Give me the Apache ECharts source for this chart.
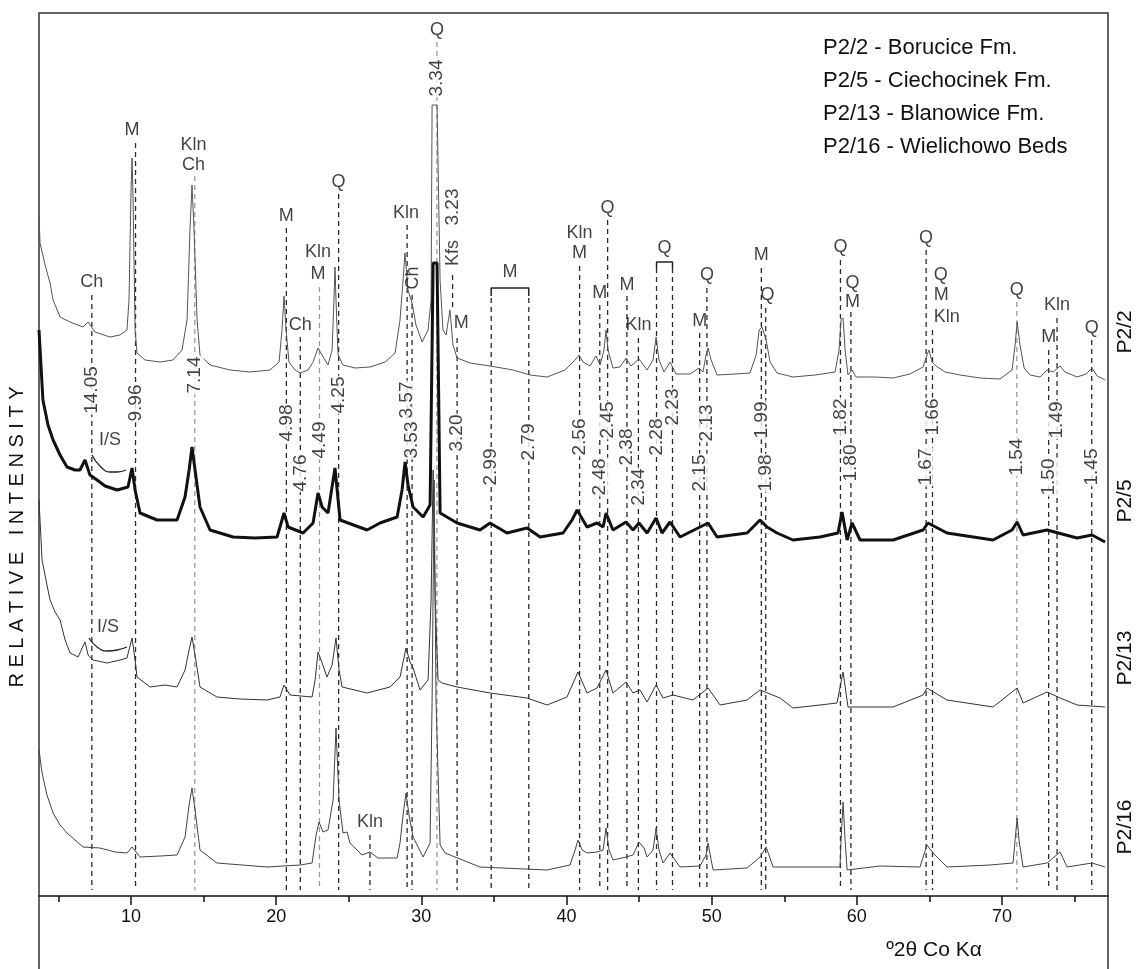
<!DOCTYPE html>
<html>
<head>
<meta charset="utf-8">
<title>XRD patterns P2</title>
<script src="https://cdn.jsdelivr.net/npm/echarts@6/dist/echarts.min.js"></script>
<style>
  html, body { margin: 0; padding: 0; background: #fff; }
  #chart { width: 1136px; height: 969px; }
</style>
</head>
<body>
<div id="chart"></div>
<script>
  // traces: [°2θ, relative intensity]
  const p22 = [[3.66,679],[3.73,653],[4.08,631],[4.42,613],[4.63,596],[5.11,579],[5.80,574],[6.69,569],[7.04,574],[7.52,564],[8.55,559],[9.24,561],[9.72,566],[9.86,596],[10.0,706],[10.07,738],[10.14,696],[10.28,566],[10.41,543],[10.96,536],[12.0,534],[12.89,536],[13.51,546],[13.86,576],[14.06,666],[14.20,711],[14.34,666],[14.55,576],[14.75,541],[15.44,531],[16.82,526],[18.19,524],[19.57,526],[20.20,534],[20.40,566],[20.54,600],[20.68,566],[20.88,534],[21.30,526],[21.64,523],[22.19,526],[22.54,534],[22.88,548],[23.16,541],[23.57,531],[23.85,546],[23.98,596],[24.05,629],[24.12,596],[24.26,541],[24.60,531],[25.43,528],[26.46,529],[27.50,534],[28.19,543],[28.53,576],[28.74,616],[28.87,643],[29.08,606],[29.36,593],[29.63,571],[30.05,554],[30.46,566],[30.67,596],[30.74,791],[31.08,791],[31.29,616],[31.49,566],[31.70,561],[31.97,586],[32.18,551],[32.46,538],[33.35,533],[34.73,530],[36.32,526],[37.49,521],[38.66,519],[39.90,526],[40.59,536],[40.86,541],[41.14,534],[41.62,530],[42.03,540],[42.31,531],[42.58,546],[42.72,566],[42.86,546],[43.20,528],[43.68,529],[44.10,538],[44.44,530],[44.99,537],[45.55,526],[45.96,536],[46.17,559],[46.37,536],[46.72,524],[47.13,534],[47.54,522],[48.51,522],[49.13,528],[49.40,524],[49.61,541],[49.75,548],[49.96,536],[50.37,521],[51.61,522],[52.64,523],[53.06,541],[53.27,566],[53.47,569],[53.75,556],[54.02,534],[54.50,523],[55.60,519],[57.12,521],[58.50,524],[58.77,546],[58.91,576],[59.05,578],[59.19,546],[59.39,521],[59.67,526],[59.94,519],[61.25,519],[62.49,518],[63.66,522],[64.56,529],[64.83,541],[64.97,546],[65.18,534],[65.46,530],[66.08,524],[67.11,521],[68.49,518],[69.86,517],[70.69,526],[70.90,551],[71.04,574],[71.24,551],[71.52,528],[71.93,521],[72.62,519],[73.10,526],[73.52,524],[74.00,530],[74.34,524],[75.17,519],[75.79,522],[76.20,528],[76.55,520],[77.10,516]]
  const p25 = [[3.66,566],[3.93,496],[4.28,471],[4.63,456],[5.11,441],[5.59,429],[6.14,426],[6.48,426],[6.83,436],[7.17,421],[7.66,416],[8.21,410],[9.04,406],[9.79,409],[10.07,428],[10.28,406],[10.62,383],[11.79,376],[13.17,376],[13.72,399],[14.0,426],[14.20,449],[14.41,426],[14.75,389],[15.44,366],[17.03,359],[18.54,358],[20.06,359],[20.54,383],[20.82,369],[21.85,363],[22.54,373],[22.88,403],[23.16,389],[23.57,383],[24.05,428],[24.40,376],[26.26,366],[27.15,373],[28.33,379],[28.67,406],[28.88,434],[29.08,411],[29.43,389],[30.12,379],[30.60,391],[30.81,633],[31.08,633],[31.29,383],[32.46,373],[34.04,366],[34.73,373],[35.90,363],[37.28,368],[38.18,359],[39.76,363],[40.38,376],[40.73,386],[41.41,369],[42.10,373],[42.52,369],[42.72,383],[43.20,366],[44.10,374],[44.58,366],[44.99,373],[45.55,363],[46.17,378],[46.58,363],[47.13,374],[47.82,359],[49.20,369],[49.75,373],[50.37,359],[52.44,363],[53.33,376],[53.81,369],[54.50,363],[55.60,356],[57.46,359],[58.70,363],[58.98,384],[59.33,356],[59.67,373],[60.22,356],[62.49,356],[64.56,366],[64.90,373],[66.21,363],[69.38,356],[70.69,366],[71.04,374],[71.45,361],[73.10,366],[75.17,358],[76.20,361],[77.10,354]]
  const p213 = [[3.66,396],[3.87,336],[4.21,311],[4.42,296],[4.77,284],[5.11,276],[5.46,256],[5.80,243],[6.35,239],[6.83,254],[7.04,241],[7.38,236],[8.35,233],[9.24,236],[9.72,238],[10.07,258],[10.28,236],[10.41,219],[11.31,209],[12.34,211],[13.17,209],[13.72,226],[14.0,246],[14.20,259],[14.41,241],[14.75,209],[15.92,199],[17.51,197],[19.37,196],[20.26,199],[20.54,211],[20.95,201],[22.47,199],[22.68,216],[22.88,244],[23.09,236],[23.50,219],[23.85,231],[24.12,258],[24.33,226],[24.54,209],[26.26,203],[27.84,209],[28.53,219],[28.94,248],[29.22,234],[29.43,228],[29.91,206],[30.46,216],[30.67,296],[30.81,426],[30.95,296],[31.15,216],[31.43,213],[32.46,209],[34.73,203],[37.28,198],[38.66,191],[40.03,199],[40.79,224],[41.41,203],[42.10,208],[42.72,226],[43.20,203],[44.10,214],[44.58,203],[45.06,206],[45.55,194],[46.17,211],[46.65,198],[47.34,201],[48.71,196],[49.75,208],[50.58,191],[52.44,196],[53.33,206],[54.71,198],[55.60,188],[57.46,191],[58.63,193],[59.05,224],[59.39,189],[62.49,189],[64.56,201],[64.83,208],[66.21,196],[69.38,189],[71.04,208],[71.45,193],[73.10,204],[74.00,198],[75.17,191],[77.10,189]]
  const p216 = [[3.66,146],[3.87,123],[4.21,101],[4.63,83],[5.11,71],[5.59,63],[6.14,56],[6.69,49],[7.86,48],[8.90,44],[9.72,43],[10.07,49],[10.62,39],[12.0,40],[13.17,41],[13.72,59],[14.0,91],[14.20,108],[14.41,86],[14.75,46],[15.92,33],[19.37,29],[21.64,31],[22.47,33],[22.75,61],[22.95,74],[23.23,64],[23.57,66],[23.92,96],[24.12,168],[24.33,96],[24.60,63],[24.88,64],[25.08,53],[25.91,41],[26.46,44],[27.01,38],[28.33,38],[28.53,53],[28.74,81],[28.94,103],[29.15,81],[29.43,59],[30.12,39],[30.60,53],[30.74,196],[30.88,416],[31.01,196],[31.29,51],[31.63,43],[34.04,29],[38.66,26],[40.24,31],[40.59,46],[40.79,56],[41.07,46],[41.41,43],[42.10,44],[42.52,46],[42.72,68],[42.93,46],[43.20,36],[44.10,39],[44.58,41],[44.99,54],[45.34,48],[45.55,39],[45.96,46],[46.17,68],[46.37,46],[46.65,33],[47.13,43],[47.82,29],[49.20,30],[49.61,41],[49.75,53],[49.96,36],[50.10,26],[52.44,28],[53.33,39],[53.75,49],[54.23,29],[56.09,29],[58.84,29],[58.91,56],[59.05,94],[59.19,56],[59.33,26],[61.60,30],[64.35,29],[64.83,51],[65.25,43],[66.21,29],[69.17,31],[70.76,33],[70.90,56],[71.04,78],[71.17,56],[71.45,29],[73.10,33],[74.00,44],[74.48,29],[76.20,33],[77.10,29]]

  // reflections: d-spacing (Å), position °2θ
  const dSpacing = ['14.05','9.96','7.14','4.98','4.76','4.49','4.25','3.57','3.53','3.34','3.23','3.20','2.99','2.79','2.56','2.48','2.45','2.38','2.34','2.28','2.23','2.15','2.13','1.99','1.98','1.82','1.80','1.67','1.66','1.54','1.50','1.49','1.45']
  const dTheta = [7.30,10.31,14.39,20.70,21.66,22.98,24.30,29.02,29.36,31.07,32.15,32.46,34.81,37.40,40.90,42.29,42.83,44.16,44.95,46.20,47.30,49.17,49.67,53.42,53.72,58.87,59.59,64.77,65.21,71.02,73.21,73.79,76.18]
  const dLabelY = [506,493,521,473,423,456,501,496,456,818,689,463,429,454,459,419,476,449,409,459,489,423,473,476,423,479,433,429,479,439,419,476,429]
  // dashed reference lines: top / bottom of each
  const refTop = [601,753,720,668,559,609,702,671,601,854,621,558,598,598,630,591,676,600,558,628,628,563,608,628,588,636,584,646,566,594,546,578,556]
  const refBottom = [6,6,6,6,6,6,6,6,6,6,586,6,6,6,6,6,6,6,6,6,6,6,6,6,6,6,6,6,6,6,6,6,6]
  const refGray = ['7.14','4.49','3.34','1.54']
  const klnTheta = 26.46

  // mineral labels: [text, °2θ, y]
  const minerals = [
    ['Ch',7.30,614],['M',10.07,766],['Kln',14.30,751],['Ch',14.30,731],['M',20.70,680],['Ch',21.66,571],
    ['Kln',22.88,644],['M',22.88,622],['Q',24.30,714],['Kln',28.95,683],['Q',31.07,866],['M',32.75,573],
    ['M',36.10,624],['Kln',40.90,663],['M',40.90,643],['M',42.29,603],['Q',42.83,688],['M',44.16,611],
    ['Kln',44.95,571],['Q',46.75,648],['M',49.17,575],['Q',49.67,621],['M',53.42,641],['Q',53.85,601],
    ['Q',58.87,649],['Q',59.70,613],['M',59.70,594],['Q',64.77,658],['Q',71.02,606],['M',73.21,559],
    ['Kln',73.79,591],['Q',76.18,568],['Kln',26.46,74],['I/S',8.55,456],['I/S',8.42,269]
  ]
  const mineralsLeft = [['Q',65.30,621],['M',65.30,601],['Kln',65.30,579]]
  const mineralsRot = [['Ch',29.45,618],['Kfs',32.20,643]]

  const isArc1 = [[7.31,441],[7.86,430],[8.55,424],[9.04,424],[9.65,426]]
  const isArc2 = [[7.10,258],[7.66,249],[8.35,245],[9.04,246],[9.72,249]]
  const mBracket = [[34.81,600],[34.81,608],[37.40,608],[37.40,600]]
  const qBracket = [[46.20,628],[46.20,634],[47.30,634],[47.30,628]]

  const majorTicks = [10,20,30,40,50,60,70]
  const minorTicks = [5,15,25,35,45,55,65,75]
  const sampleNames = ['P2/2','P2/5','P2/13','P2/16']
  const legendLines = ['P2/2 - Borucice Fm.','P2/5 - Ciechocinek Fm.','P2/13 - Blanowice Fm.','P2/16 - Wielichowo Beds']

  const FONT = '"Liberation Sans", Arial, Helvetica, sans-serif'
  const chart = echarts.init(document.getElementById('chart'), null, { renderer: 'canvas' })

  // build dashed line data (null breaks the line)
  const darkLines = []
  const grayLines = []
  dTheta.forEach((t, i) => {
    const target = refGray.indexOf(dSpacing[i]) >= 0 ? grayLines : darkLines
    target.push([t, refTop[i]], [t, refBottom[i]], null)
  })
  darkLines.push([klnTheta, 61], [klnTheta, 6], null)

  const labelItems = []
  minerals.forEach(m => labelItems.push({ value: [m[1], m[2]], name: m[0] }))
  mineralsLeft.forEach(m => labelItems.push({ value: [m[1], m[2]], name: m[0], label: { position: 'right', distance: 0 } }))
  mineralsRot.forEach(m => labelItems.push({ value: [m[1], m[2]], name: m[0], label: { rotate: 90 } }))
  dSpacing.forEach((d, i) => labelItems.push({
    value: [dTheta[i], dLabelY[i]], name: d,
    label: { rotate: 90, fontSize: 19, backgroundColor: '#fff', padding: [0, 1] }
  }))

  const thin = (name, data, color, width) => ({
    name: name, type: 'line', data: data, symbol: 'none', showSymbol: false,
    lineStyle: { color: color, width: width }, z: 3, silent: true
  })

  const option = {
    animation: false,
    backgroundColor: '#fff',
    grid: { left: 39, right: 28, top: 13, bottom: 73 },
    xAxis: [
      {
        type: 'value', min: 3.66, max: 77.3,
        axisLine: { lineStyle: { color: '#111', width: 1.5 } },
        axisTick: { customValues: majorTicks, length: 9, lineStyle: { color: '#111', width: 1.5 } },
        axisLabel: { customValues: majorTicks, fontSize: 18, color: '#111', margin: 12, fontFamily: FONT },
        splitLine: { show: false }
      },
      {
        type: 'value', min: 3.66, max: 77.3, position: 'bottom', offset: 0,
        axisLine: { show: false },
        axisTick: { customValues: minorTicks, length: 6, lineStyle: { color: '#111', width: 1.5 } },
        axisLabel: { show: false },
        splitLine: { show: false }
      }
    ],
    yAxis: {
      type: 'value', min: 0, max: 883,
      axisLine: { show: false }, axisTick: { show: false },
      axisLabel: { show: false }, splitLine: { show: false }
    },
    series: [
      { type: 'line', data: darkLines, symbol: 'none', connectNulls: false, silent: true, z: 1,
        lineStyle: { color: '#2a2a2a', width: 1.3, type: [5, 4] } },
      { type: 'line', data: grayLines, symbol: 'none', connectNulls: false, silent: true, z: 1,
        lineStyle: { color: '#999', width: 1.3, type: [5, 4] } },
      thin('P2/2', p22, '#555', 1),
      thin('P2/5', p25, '#111', 3),
      thin('P2/13', p213, '#333', 1),
      thin('P2/16', p216, '#444', 1),
      { type: 'line', data: isArc1, smooth: true, symbol: 'none', silent: true, lineStyle: { color: '#222', width: 1.3 } },
      { type: 'line', data: isArc2, smooth: true, symbol: 'none', silent: true, lineStyle: { color: '#222', width: 1.3 } },
      { type: 'line', data: mBracket, symbol: 'none', silent: true, lineStyle: { color: '#222', width: 1.5 } },
      { type: 'line', data: qBracket, symbol: 'none', silent: true, lineStyle: { color: '#222', width: 1.5 } },
      {
        type: 'scatter', data: labelItems, symbolSize: 0, silent: true, z: 10,
        label: { show: true, position: 'inside', formatter: '{b}', color: '#111', fontSize: 18, fontFamily: FONT }
      }
    ],
    graphic: [
      { type: 'rect', shape: { x: 39, y: 13, width: 1069, height: 1000 }, silent: true,
        style: { fill: 'none', stroke: '#333', lineWidth: 1.5 } },
      { type: 'text', x: 17, y: 537, rotation: Math.PI / 2, silent: true,
        style: { text: 'R E L A T I V E   I N T E N S I T Y', font: '20px ' + FONT, fill: '#111', textAlign: 'center', textVerticalAlign: 'middle' } },
      { type: 'text', x: 934, y: 950, silent: true,
        style: { text: 'º2θ Co Kα', font: '21px ' + FONT, fill: '#111', textAlign: 'center', textVerticalAlign: 'middle' } }
    ]
  }

  const sampleY = [332, 501, 658, 827]
  sampleNames.forEach((s, i) => option.graphic.push({
    type: 'text', x: 1125, y: sampleY[i], rotation: Math.PI / 2, silent: true,
    style: { text: s, font: '21px ' + FONT, fill: '#111', textAlign: 'center', textVerticalAlign: 'middle' }
  }))
  legendLines.forEach((s, i) => option.graphic.push({
    type: 'text', x: 823, y: 48 + i * 33, silent: true,
    style: { text: s, font: '22px ' + FONT, fill: '#111', textAlign: 'left', textVerticalAlign: 'middle' }
  }))

  chart.setOption(option)
</script>
</body>
</html>
